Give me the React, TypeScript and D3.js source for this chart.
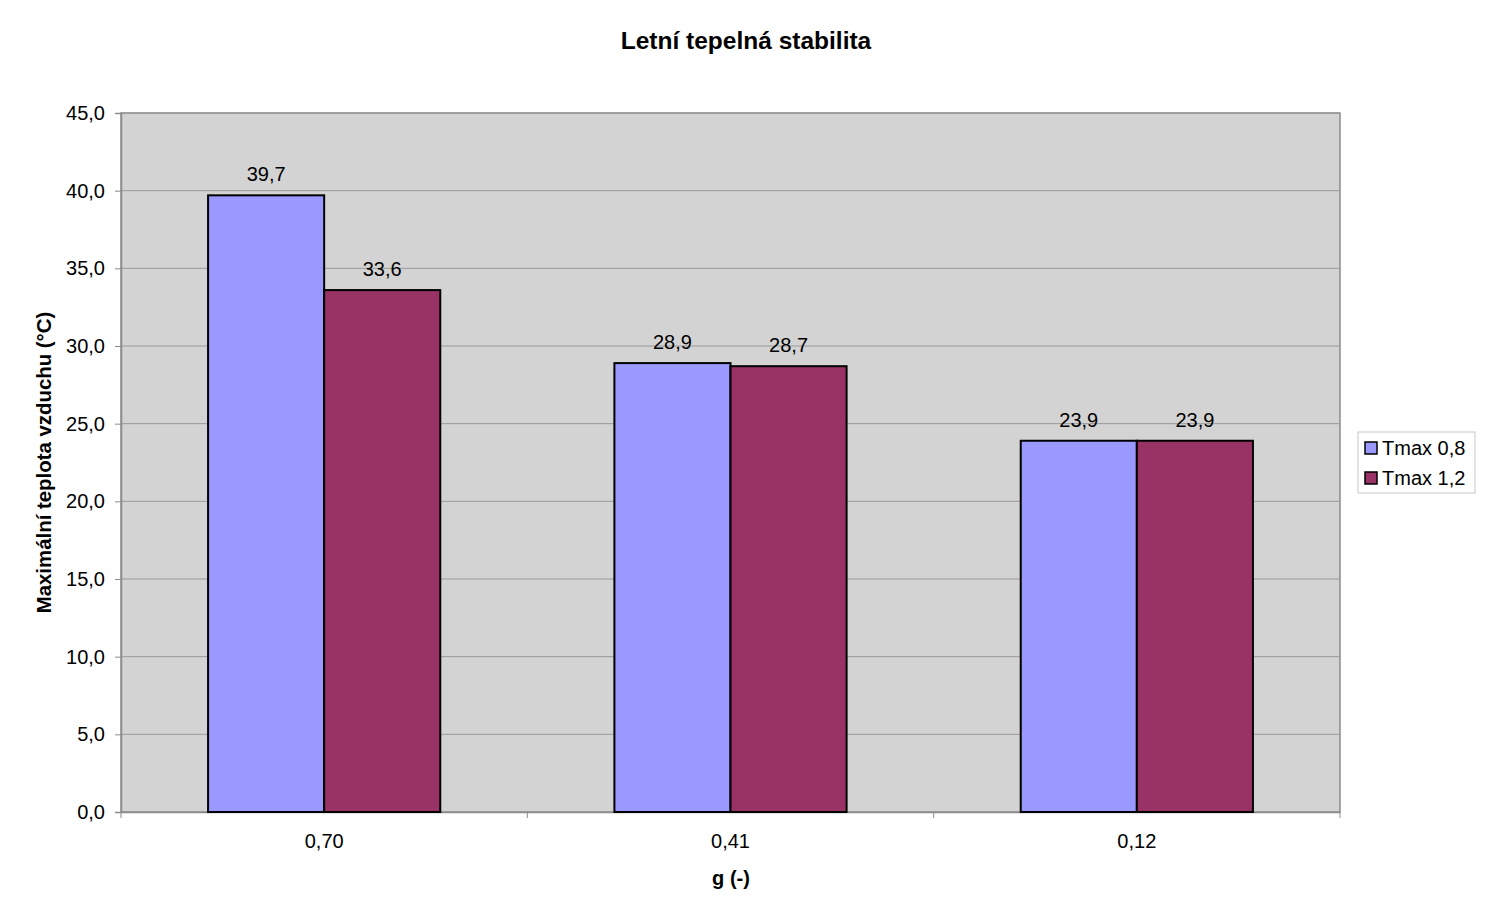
import React, { useEffect, useRef } from 'react';
import * as d3 from 'd3';

const categories = ['0,70', '0,41', '0,12'];
const seriesNames = ['Tmax 0,8', 'Tmax 1,2'];
const tmax08 = [39.7, 28.9, 23.9];
const tmax12 = [33.6, 28.7, 23.9];
const yTicks = [0, 5, 10, 15, 20, 25, 30, 35, 40, 45];

const colors = ['#9999FF', '#993366'];
const fmt = (v: number) => v.toFixed(1).replace('.', ',');

function App() {
  const svgRef = useRef<SVGSVGElement>(null);

  useEffect(() => {
    const width = 1500;
    const height = 909;
    const m = { left: 121, right: 1340, top: 113, bottom: 812 };
    const font = 'Arial, "Liberation Sans", sans-serif';

    const svg = d3.select(svgRef.current).attr('width', width).attr('height', height);
    svg.selectAll('*').remove();

    const x = d3.scaleBand<string>().domain(categories).range([m.left, m.right]);
    const y = d3.scaleLinear().domain([0, 45]).range([m.bottom, m.top]);
    // Excel style: gap width 150% of a bar
    const barW = x.bandwidth() / (2 + 1.5);
    const series = [tmax08, tmax12];

    // plot area
    svg.append('rect')
      .attr('x', m.left).attr('y', m.top)
      .attr('width', m.right - m.left).attr('height', m.bottom - m.top)
      .attr('fill', '#d3d3d3')
      .attr('stroke', '#8c8c8c').attr('stroke-width', 1.5);

    // grid
    svg.append('g')
      .selectAll('line')
      .data(yTicks.slice(1))
      .join('line')
      .attr('x1', m.left).attr('x2', m.right)
      .attr('y1', d => y(d)).attr('y2', d => y(d))
      .attr('stroke', '#9a9a9a').attr('stroke-width', 1);

    // y axis
    const yAxis = svg.append('g')
      .attr('transform', `translate(${m.left},0)`)
      .call(d3.axisLeft(y).tickValues(yTicks).tickFormat(d => fmt(+d)).tickSize(6).tickPadding(10));
    yAxis.select('.domain').attr('stroke', '#8c8c8c').attr('stroke-width', 1.5);
    yAxis.selectAll('.tick line').attr('stroke', '#8c8c8c');
    yAxis.selectAll('text').attr('font-family', font).attr('font-size', 20).attr('fill', '#000');

    // x axis
    const xAxis = svg.append('g')
      .attr('transform', `translate(0,${m.bottom})`)
      .call(d3.axisBottom(x).tickSize(0).tickPadding(22));
    xAxis.select('.domain').attr('stroke', '#8c8c8c').attr('stroke-width', 1.5);
    xAxis.selectAll('text').attr('font-family', font).attr('font-size', 20).attr('fill', '#000');
    svg.append('g')
      .selectAll('line')
      .data(d3.range(categories.length + 1))
      .join('line')
      .attr('x1', i => m.left + i * x.step()).attr('x2', i => m.left + i * x.step())
      .attr('y1', m.bottom).attr('y2', m.bottom + 6)
      .attr('stroke', '#8c8c8c');

    // bars
    series.forEach((vals, s) => {
      const g = svg.append('g');
      g.selectAll('rect')
        .data(vals)
        .join('rect')
        .attr('x', (d, i) => (x(categories[i]) as number) + barW * 0.75 + s * barW)
        .attr('y', d => y(d))
        .attr('width', barW)
        .attr('height', d => y(0) - y(d))
        .attr('fill', colors[s])
        .attr('stroke', '#000').attr('stroke-width', 2);
      g.selectAll('text')
        .data(vals)
        .join('text')
        .attr('x', (d, i) => (x(categories[i]) as number) + barW * 0.75 + s * barW + barW / 2)
        .attr('y', d => y(d) - 14)
        .attr('text-anchor', 'middle')
        .attr('font-family', font).attr('font-size', 20)
        .text(d => fmt(d));
    });

    // title
    svg.append('text')
      .attr('x', 746).attr('y', 49)
      .attr('text-anchor', 'middle')
      .attr('font-family', font).attr('font-size', 24.5).attr('font-weight', 'bold')
      .text('Letní tepelná stabilita');

    svg.append('text')
      .attr('x', 731).attr('y', 885)
      .attr('text-anchor', 'middle')
      .attr('font-family', font).attr('font-size', 20).attr('font-weight', 'bold')
      .text('g (-)');

    svg.append('text')
      .attr('transform', `translate(51,${(m.top + m.bottom) / 2}) rotate(-90)`)
      .attr('text-anchor', 'middle')
      .attr('font-family', font).attr('font-size', 20.4).attr('font-weight', 'bold')
      .text('Maximální teplota vzduchu (°C)');

    // legend
    const lg = svg.append('g').attr('transform', 'translate(1358,432)');
    lg.append('rect')
      .attr('width', 117).attr('height', 61)
      .attr('fill', '#fff').attr('stroke', '#c8c8c8');
    const item = lg.selectAll('g.item')
      .data(seriesNames)
      .join('g')
      .attr('class', 'item')
      .attr('transform', (d, i) => `translate(7,${10 + i * 30})`);
    item.append('rect')
      .attr('width', 12).attr('height', 12)
      .attr('fill', (d, i) => colors[i])
      .attr('stroke', '#000').attr('stroke-width', 1.5);
    item.append('text')
      .attr('x', 17).attr('y', 13)
      .attr('font-family', font).attr('font-size', 20)
      .text(d => d);
  }, []);

  return (
    <div style={{ position: 'absolute', left: 0, top: 0 }}>
      <svg ref={svgRef} style={{ display: 'block' }}></svg>
    </div>
  );
}

export default App;
